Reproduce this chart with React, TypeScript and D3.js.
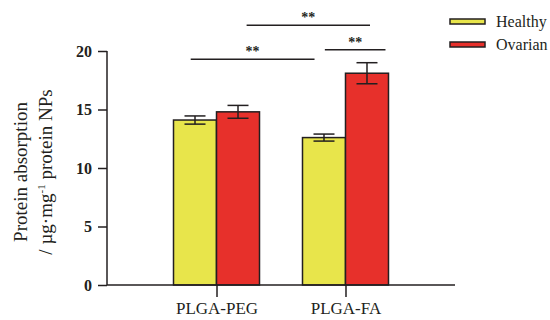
import { useRef, useEffect } from 'react';
import * as d3 from 'd3';

const GROUPS = ['PLGA-PEG', 'PLGA-FA'];
const SERIES = ['Healthy', 'Ovarian'];
const COLORS = ['#e8e54b', '#e7302b'];
const MEANS = [
  [14.1, 14.8],
  [12.6, 18.1],
];
const ERRORS = [
  [0.35, 0.55],
  [0.3, 0.9],
];
const Y_TICKS = [0, 5, 10, 15, 20];
// [group, series, frac] -> [group, series, frac], level in data units
const BRACKETS = [
  { a: [0, 1, 0.7], b: [1, 1, 0.57], level: 22.2, label: '**' },
  { a: [0, 0, 0.4], b: [1, 0, 0.28], level: 19.3, label: '**' },
  { a: [1, 0, 0.52], b: [1, 1, 0.93], level: 20.1, label: '**' },
];

const W = 550;
const H = 320;
const FONT = '"Liberation Serif", "Times New Roman", serif';
const INK = '#231f20';

export default function App() {
  const svgRef = useRef<SVGSVGElement>(null);

  useEffect(() => {
    document.body.style.margin = '0';
    document.documentElement.style.overflow = 'hidden';

    const svg = d3.select(svgRef.current);
    svg.selectAll('*').remove();

    const left = 107, right = 455, top = 51, bottom = 285;

    const x = d3.scalePoint().domain(GROUPS).range([left, right]).padding(0.849);
    const barW = 43;
    const inner = d3.scaleBand().domain(SERIES).range([-barW, barW]).padding(0);
    const y = d3.scaleLinear().domain([0, 20]).range([bottom, top]);

    const g = svg.append('g');

    // bars
    GROUPS.forEach((grp, gi) => {
      SERIES.forEach((s, si) => {
        const x0 = x(grp)! + inner(s)!;
        const v = MEANS[gi][si];
        g.append('rect')
          .attr('x', x0)
          .attr('y', y(v))
          .attr('width', inner.bandwidth())
          .attr('height', y(0) - y(v))
          .attr('fill', COLORS[si])
          .attr('stroke', INK)
          .attr('stroke-width', 1.5);
        const cx = x0 + inner.bandwidth() / 2;
        const e = ERRORS[gi][si];
        const cap = 10.5;
        g.append('line')
          .attr('x1', cx).attr('x2', cx)
          .attr('y1', y(v - e)).attr('y2', y(v + e))
          .attr('stroke', INK).attr('stroke-width', 1.5);
        [v - e, v + e].forEach((yy) => {
          g.append('line')
            .attr('x1', cx - cap).attr('x2', cx + cap)
            .attr('y1', y(yy)).attr('y2', y(yy))
            .attr('stroke', INK).attr('stroke-width', 1.5);
        });
      });
    });

    // y axis
    const yAxis = g.append('g')
      .attr('transform', `translate(${left},0)`)
      .call(d3.axisLeft(y).tickValues(Y_TICKS).tickSize(9).tickPadding(6));
    yAxis.select('.domain').attr('stroke', INK).attr('stroke-width', 1.5).attr('d', `M0,${bottom}V${top}`);
    yAxis.selectAll('.tick line').attr('stroke', INK).attr('stroke-width', 1.5);
    yAxis.selectAll('.tick text')
      .attr('fill', INK)
      .attr('font-family', FONT)
      .attr('font-size', 16)
      .attr('font-weight', 'bold');

    // x axis
    const xAxis = g.append('g')
      .attr('transform', `translate(0,${bottom})`)
      .call(d3.axisBottom(x).tickSize(12).tickPadding(5));
    xAxis.select('.domain').attr('stroke', INK).attr('stroke-width', 1.5).attr('d', `M${left},0H${right}`);
    xAxis.selectAll('.tick line').attr('stroke', INK).attr('stroke-width', 1.5);
    xAxis.selectAll('.tick text')
      .attr('fill', INK)
      .attr('font-family', FONT)
      .attr('font-size', 17);

    // y label
    const yl = g.append('text')
      .attr('transform', `translate(27,${(top + bottom) / 2 + 4}) rotate(-90)`)
      .attr('text-anchor', 'middle')
      .attr('fill', INK)
      .attr('font-family', FONT)
      .attr('font-size', 19);
    yl.append('tspan').attr('x', 0).attr('dy', 0).text('Protein absorption');
    const l2 = yl.append('tspan').attr('x', 0).attr('dy', 25);
    l2.append('tspan').text('/ µg·mg');
    l2.append('tspan').attr('dy', -7).attr('font-size', 11).text('-1');
    l2.append('tspan').attr('dy', 7).text(' protein NPs');

    // significance brackets
    const bx = (p: number[]) => x(GROUPS[p[0]])! + inner(SERIES[p[1]])! + p[2] * inner.bandwidth();
    BRACKETS.forEach((b) => {
      const x1 = bx(b.a), x2 = bx(b.b);
      g.append('line')
        .attr('x1', x1).attr('x2', x2)
        .attr('y1', y(b.level)).attr('y2', y(b.level))
        .attr('stroke', INK).attr('stroke-width', 1.5);
      g.append('text')
        .attr('x', (x1 + x2) / 2)
        .attr('y', y(b.level) - 3)
        .attr('text-anchor', 'middle')
        .attr('fill', INK)
        .attr('font-family', FONT)
        .attr('font-size', 14)
        .attr('font-weight', 'bold')
        .text(b.label);
    });

    // legend
    const leg = g.append('g').attr('transform', 'translate(450,19)');
    SERIES.forEach((s, i) => {
      const row = leg.append('g').attr('transform', `translate(0,${i * 23})`);
      row.append('rect')
        .attr('width', 35).attr('height', 5)
        .attr('fill', COLORS[i])
        .attr('stroke', INK).attr('stroke-width', 1.5);
      row.append('text')
        .attr('x', 46).attr('y', 8)
        .attr('fill', INK)
        .attr('font-family', FONT)
        .attr('font-size', 16)
        .text(s);
    });
  }, []);

  return (
    <div style={{ width: W, height: H, background: '#fff' }}>
      <svg ref={svgRef} width={W} height={H} style={{ display: 'block' }} />
    </div>
  );
}
